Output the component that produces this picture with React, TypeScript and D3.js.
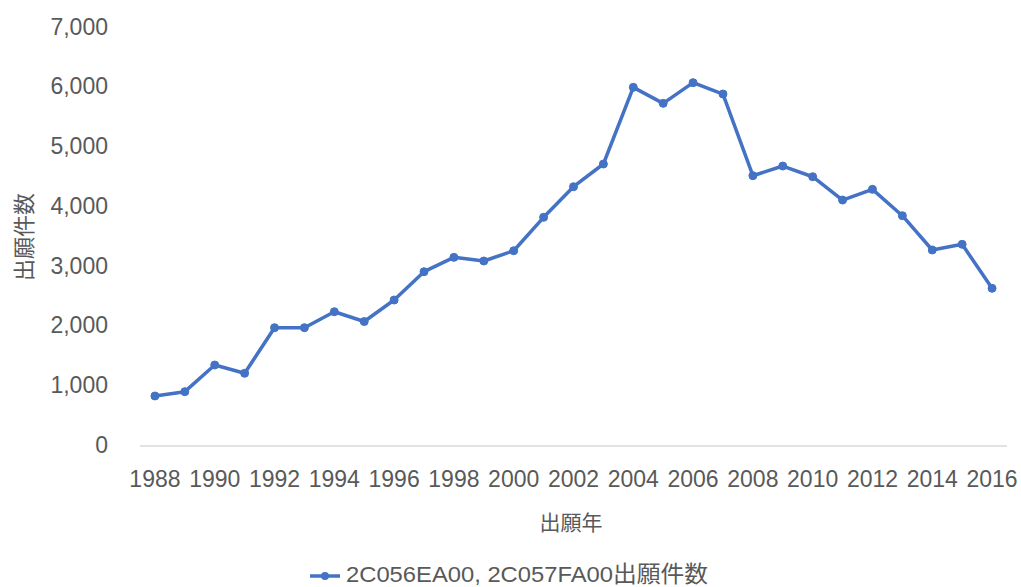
import React from "react";
import * as d3 from "d3";

const years: number[] = [
  1988, 1989, 1990, 1991, 1992, 1993, 1994, 1995, 1996, 1997,
  1998, 1999, 2000, 2001, 2002, 2003, 2004, 2005, 2006, 2007,
  2008, 2009, 2010, 2011, 2012, 2013, 2014, 2015, 2016,
];
const counts: number[] = [
  837, 909, 1355, 1217, 1980, 1980, 2247, 2083, 2443, 2917,
  3157, 3096, 3268, 3827, 4339, 4719, 6002, 5734, 6080, 5890,
  4523, 4685, 4506, 4116, 4295, 3854, 3280, 3375, 2639,
];
const yTicks: number[] = [0, 1000, 2000, 3000, 4000, 5000, 6000, 7000];
const xTickYears: number[] = years.filter((y) => (y - 1988) % 2 === 0);
const seriesName = "2C056EA00, 2C057FA00出願件数";
const yTitle = "出願件数";
const xTitle = "出願年";

const W = 1021;
const H = 587;
const plotLeft = 140;
const plotRight = 1007;
const plotTop = 27.7;
const plotBottom = 446;
const lineColor = "#4472C4";
const textColor = "#595959";
const font = "'Liberation Sans', Arial, 'Noto Sans CJK JP', sans-serif";

export default function App() {
  const x = d3
    .scalePoint<number>()
    .domain(years)
    .range([plotLeft, plotRight])
    .padding(0.5);
  const y = d3.scaleLinear().domain([0, 7000]).range([plotBottom, plotTop]);
  const fmt = d3.format(",");
  const line = d3
    .line<number>()
    .x((_, i) => x(years[i]) as number)
    .y((d) => y(d));

  return (
    <svg
      width={W}
      height={H}
      style={{ position: "absolute", left: 0, top: 0, background: "#fff" }}
      fontFamily={font}
    >
      <rect x={0} y={0} width={W} height={H} fill="#fff" />
      <line
        x1={plotLeft}
        x2={plotRight}
        y1={y(0)}
        y2={y(0)}
        stroke="#d9d9d9"
        strokeWidth={1.3}
      />
      {yTicks.map((t) => (
        <text
          key={t}
          x={108}
          y={y(t) - 1}
          textAnchor="end"
          dominantBaseline="central"
          fontSize={23}
          fill={textColor}
        >
          {fmt(t)}
        </text>
      ))}
      {xTickYears.map((yr) => (
        <text
          key={yr}
          x={x(yr) as number}
          y={479}
          textAnchor="middle"
          dominantBaseline="central"
          fontSize={23}
          fill={textColor}
        >
          {yr}
        </text>
      ))}
      <text
        transform={`translate(24,237) rotate(-90)`}
        textAnchor="middle"
        dominantBaseline="central"
        fontSize={22}
        fill={textColor}
      >
        {yTitle}
      </text>
      <text
        x={571}
        y={522}
        textAnchor="middle"
        dominantBaseline="central"
        fontSize={21}
        fill={textColor}
      >
        {xTitle}
      </text>
      <path
        d={line(counts) || ""}
        fill="none"
        stroke={lineColor}
        strokeWidth={3.5}
        strokeLinejoin="round"
        strokeLinecap="round"
      />
      {counts.map((c, i) => (
        <circle
          key={years[i]}
          cx={x(years[i]) as number}
          cy={y(c)}
          r={4}
          fill={lineColor}
          stroke={lineColor}
        />
      ))}
      <g>
        <line x1={310} x2={340} y1={576} y2={576} stroke={lineColor} strokeWidth={3.5} />
        <circle cx={325} cy={576} r={4} fill={lineColor} />
        <text
          x={346}
          y={574}
          dominantBaseline="central"
          fontSize={22.5}
          textLength={362}
          lengthAdjust="spacingAndGlyphs"
          fill={textColor}
        >
          {seriesName}
        </text>
      </g>
    </svg>
  );
}
